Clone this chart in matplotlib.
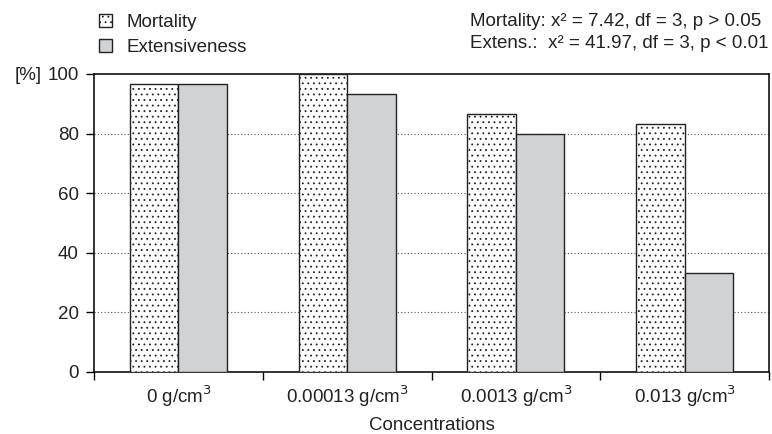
import matplotlib
matplotlib.use("Agg")
import matplotlib.pyplot as plt
import numpy as np

plt.rcParams['font.family'] = ['Liberation Sans', 'DejaVu Sans']
plt.rcParams['hatch.linewidth'] = 0.6

categories = ["0 g/cm$^3$", "0.00013 g/cm$^3$", "0.0013 g/cm$^3$", "0.013 g/cm$^3$"]
mortality = [96.7, 100.0, 86.7, 83.3]
extensiveness = [96.7, 93.3, 80.0, 33.3]
yticks = [0, 20, 40, 60, 80, 100]

FS = 13.5
fig = plt.figure(figsize=(7.72, 4.34), dpi=100)
ax = fig.add_axes([94/772, 62/434, 675/772, 298/434])

x = np.arange(len(categories))
w = 0.288
b1 = ax.bar(x - w/2, mortality, w, facecolor='white', edgecolor='#222222',
            hatch='...', linewidth=1.0, label='Mortality', zorder=3)
b2 = ax.bar(x + w/2, extensiveness, w, facecolor='#d1d2d4', edgecolor='#222222',
            linewidth=1.0, label='Extensiveness', zorder=3)

ax.set_xlim(-0.5, len(categories) - 0.5)
ax.set_ylim(0, 100)
ax.set_yticks(yticks)
ax.set_yticklabels([str(v) for v in yticks], fontsize=FS, color='#222222')
for v in yticks[1:-1]:
    ax.axhline(v, color='#555555', linestyle=(0, (1, 2)), linewidth=0.8, zorder=1)

ax.set_xticks(x)
ax.set_xticklabels(categories, fontsize=FS, color='#222222')
ax.tick_params(axis='x', length=0, pad=8)
ax.set_xticks(np.arange(-0.5, len(categories)), minor=True)
ax.tick_params(axis='x', which='minor', length=6, direction='out', width=1)
ax.tick_params(axis='y', length=6, direction='out', width=1, pad=5)
for s in ax.spines.values():
    s.set_linewidth(1.2)
    s.set_color('#111111')

fig.text(432/772, 1 - 425/434, 'Concentrations', fontsize=FS, va='center', ha='center',
         color='#222222')
fig.text(15/772, 1 - 76/434, '[%]', fontsize=FS, va='center', ha='left', color='#222222')

leg = fig.legend(handles=[b1, b2], loc='upper left', bbox_to_anchor=(84/772, 1 + 1/434),
                 frameon=False, fontsize=FS, handlelength=0.7, handleheight=0.7,
                 handletextpad=0.75, labelspacing=0.42, borderpad=0.3)
for t in leg.get_texts():
    t.set_color('#222222')

fig.text(470/772, 1 - 22/434, 'Mortality: x\u00b2 = 7.42, df = 3, p > 0.05',
         fontsize=FS, va='center', ha='left', color='#222222')
fig.text(470/772, 1 - 43/434, 'Extens.:  x\u00b2 = 41.97, df = 3, p < 0.01',
         fontsize=FS, va='center', ha='left', color='#222222')

fig.savefig('out.png', dpi=100)
